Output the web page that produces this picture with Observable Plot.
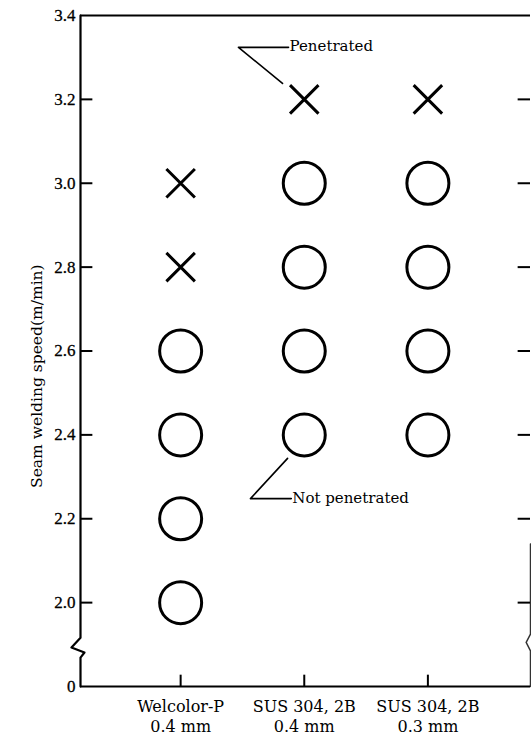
<!DOCTYPE html>
<html>
<head>
<meta charset="utf-8">
<script src="https://cdn.jsdelivr.net/npm/d3@7"></script>
<script src="https://cdn.jsdelivr.net/npm/@observablehq/plot@0.6"></script>
<style>
  html, body { margin: 0; padding: 0; background: #fff; }
</style>
</head>
<body>
<div id="chart"></div>
<script>
// ---- data ----
const categories = ["Welcolor-P\n0.4 mm", "SUS 304, 2B\n0.4 mm", "SUS 304, 2B\n0.3 mm"];
const catIndex = [1, 2, 3];

// Penetrated (×)
const penCat   = [1, 1, 2, 3];
const penSpeed = [3.0, 2.8, 3.2, 3.2];

// Not penetrated (○)
const notCat   = [1, 1, 1, 1, 2, 2, 2, 2, 3, 3, 3, 3];
const notSpeed = [2.6, 2.4, 2.2, 2.0, 3.0, 2.8, 2.6, 2.4, 3.0, 2.8, 2.6, 2.4];

// y ticks (bottom one is the broken-axis "0")
const yTicks      = [1.8, 2.0, 2.2, 2.4, 2.6, 2.8, 3.0, 3.2, 3.4];
const yTickLabels = ["0", "2.0", "2.2", "2.4", "2.6", "2.8", "3.0", "3.2", "3.4"];
const innerTicks  = [2.0, 2.2, 2.4, 2.6, 2.8, 3.0, 3.2];

// ---- geometry helpers (data units) ----
const xMin = 0.19, xMax = 3.83, yMin = 1.8, yMax = 3.4;
const tickLenX = 0.1, tickLenY = 0.027;

// left axis with break zigzag
const leftAxisX = [xMin, xMin, xMin - 0.073, xMin + 0.032, xMin, xMin];
const leftAxisY = [yMax, 1.916, 1.893, 1.881, 1.869, yMin];
const rightAxisX = [xMax, xMax, xMax - 0.035, xMax, xMax];
const rightAxisY = [2.14, 1.925, 1.905, 1.885, yMin];

// annotations
const penLeaderX = [1.824, 1.468, 1.873];
const penLeaderY = [3.238, 3.324, 3.324];
const notLeaderX = [1.865, 1.565, 1.895];
const notLeaderY = [2.344, 2.248, 2.248];

const serif = "DejaVu Serif";
const numFont = "Liberation Serif";

const pts = (xs, ys) => xs.map((x, i) => ({x, y: ys[i]}));

const chart = Plot.plot({
  width: 531,
  height: 735,
  marginLeft: 80,
  marginRight: 1,
  marginTop: 15,
  marginBottom: 49,
  x: {domain: [xMin, xMax], axis: null},
  y: {domain: [yMin, yMax], axis: null},
  style: {background: "#fff", color: "#000"},
  marks: [
    // frame
    Plot.ruleY([yMax], {x1: xMin, x2: xMax, stroke: "#000", strokeWidth: 2}),
    Plot.ruleY([yMin], {x1: xMin, x2: xMax, stroke: "#000", strokeWidth: 2}),
    Plot.line(pts(leftAxisX, leftAxisY), {x: "x", y: "y", stroke: "#000", strokeWidth: 2.2, curve: "linear"}),
    Plot.line(pts(rightAxisX, rightAxisY), {x: "x", y: "y", stroke: "#000", strokeWidth: 1.5, strokeOpacity: 0.8}),
    // left ticks (inward)
    Plot.ruleY(innerTicks, {x1: xMin, x2: xMin + tickLenX, stroke: "#000", strokeWidth: 2}),
    // right ticks (inward)
    Plot.ruleY(innerTicks, {x1: xMax - tickLenX, x2: xMax, stroke: "#000", strokeWidth: 2}),
    // bottom ticks (inward)
    Plot.ruleX(catIndex, {y1: yMin, y2: yMin + tickLenY, stroke: "#000", strokeWidth: 2}),
    // y tick labels
    Plot.text(yTicks, {x: xMin, y: d => d, text: (d, i) => yTickLabels[i], textAnchor: "end", dx: -5,
      fontSize: 17, fontFamily: numFont, fill: "#000", stroke: "#000", strokeWidth: 0.3}),
    // x category labels
    Plot.text(catIndex, {x: d => d, frameAnchor: "bottom", text: (d, i) => categories[i],
      lineAnchor: "top", dy: 11, lineHeight: 1.25, fontSize: 16, fontFamily: serif, fill: "#000"}),
    // y axis label
    Plot.text(["Seam welding speed(m/min)"], {x: xMin, y: 2.54, text: d => d, rotate: -90, dx: -43,
      fontSize: 15.5, fontFamily: serif, fill: "#000"}),
    // data marks
    Plot.dot(notCat.map((c, i) => ({c, s: notSpeed[i]})), {x: "c", y: "s", r: 21, stroke: "#000", strokeWidth: 3, fill: "none"}),
    Plot.dot(penCat.map((c, i) => ({c, s: penSpeed[i]})), {x: "c", y: "s", r: 13, symbol: "times", stroke: "#000", strokeWidth: 3}),
    // annotations
    Plot.line(pts(penLeaderX, penLeaderY), {x: "x", y: "y", stroke: "#000", strokeWidth: 1.6}),
    Plot.text(["Penetrated"], {x: 1.873, y: 3.328, text: d => d, textAnchor: "start", dx: 1,
      fontSize: 15, fontFamily: serif, fill: "#000"}),
    Plot.line(pts(notLeaderX, notLeaderY), {x: "x", y: "y", stroke: "#000", strokeWidth: 1.6}),
    Plot.text(["Not penetrated"], {x: 1.895, y: 2.248, text: d => d, textAnchor: "start", dx: 1,
      fontSize: 15, fontFamily: serif, fill: "#000"})
  ]
});

document.getElementById("chart").appendChild(chart);
</script>
</body>
</html>
